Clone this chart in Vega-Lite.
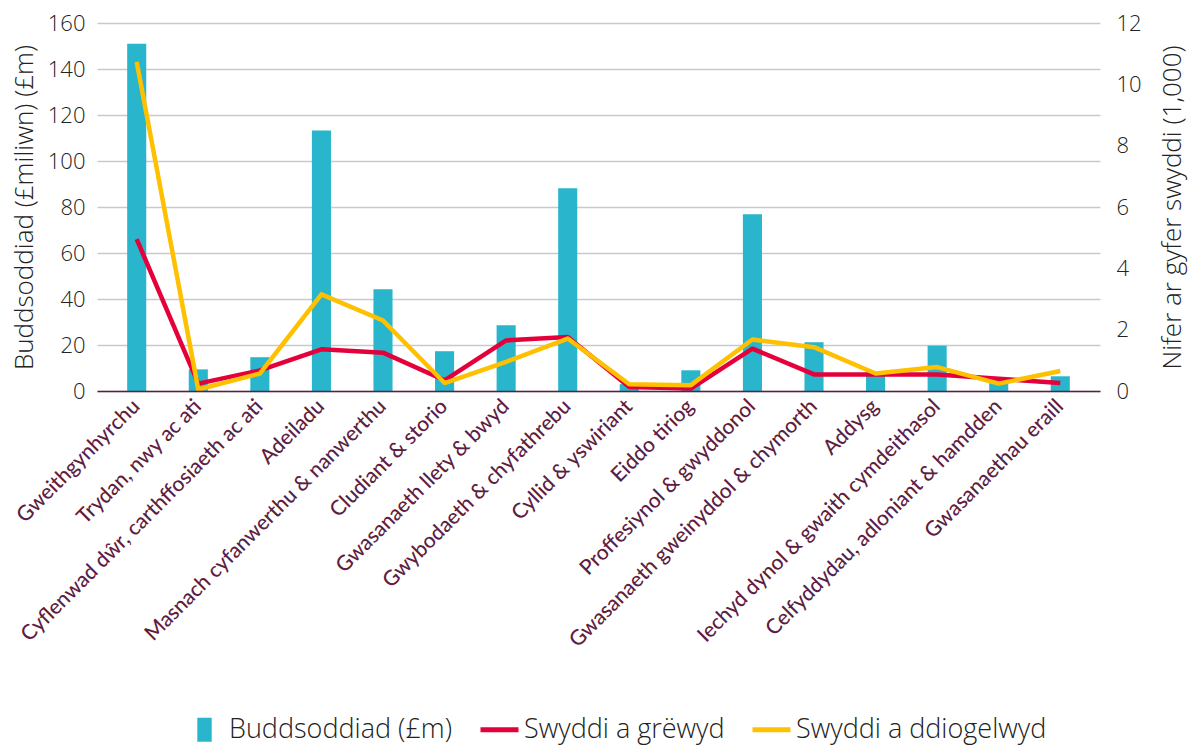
{
  "$schema": "https://vega.github.io/schema/vega-lite/v6.json",
  "autosize": "none",
  "width": 1003,
  "height": 368,
  "padding": {"left": 97, "top": 23, "right": 89, "bottom": 356},
  "background": "white",
  "config": {
    "view": {"stroke": null},
    "font": "Open Sans",
    "axis": {"labelFont": "Open Sans", "titleFont": "Open Sans", "ticks": false},
    "legend": {
      "title": null,
      "orient": "none",
      "direction": "horizontal",
      "legendX": 94,
      "legendY": 693,
      "symbolSize": 1444,
      "labelFontSize": 27,
      "labelFontWeight": 300,
      "labelColor": "#222222",
      "labelFont": "Open Sans",
      "labelLimit": 400,
      "labelOffset": 11,
      "columnPadding": 17
    }
  },
  "data": {
    "values": [
      {"cat": "Gweithgynhyrchu", "invest": 151, "created": 4.95, "safe": 10.73},
      {"cat": "Trydan, nwy ac ati", "invest": 9.4, "created": 0.24, "safe": 0.05},
      {"cat": "Cyflenwad dŵr, carthffosiaeth ac ati", "invest": 14.7, "created": 0.67, "safe": 0.57},
      {"cat": "Adeiladu", "invest": 113.3, "created": 1.36, "safe": 3.15},
      {"cat": "Masnach cyfanwerthu & nanwerthu", "invest": 44.2, "created": 1.25, "safe": 2.3},
      {"cat": "Cludiant & storio", "invest": 17.3, "created": 0.35, "safe": 0.26},
      {"cat": "Gwasanaeth llety & bwyd", "invest": 28.6, "created": 1.65, "safe": 0.95},
      {"cat": "Gwybodaeth & chyfathrebu", "invest": 88.1, "created": 1.76, "safe": 1.71},
      {"cat": "Cyllid & yswiriant", "invest": 3, "created": 0.13, "safe": 0.22},
      {"cat": "Eiddo tiriog", "invest": 9, "created": 0.08, "safe": 0.19},
      {"cat": "Proffesiynol & gwyddonol", "invest": 76.8, "created": 1.38, "safe": 1.68},
      {"cat": "Gwasanaeth gweinyddol & chymorth", "invest": 21.2, "created": 0.54, "safe": 1.43},
      {"cat": "Addysg", "invest": 8, "created": 0.54, "safe": 0.57},
      {"cat": "Iechyd dynol & gwaith cymdeithasol", "invest": 19.7, "created": 0.54, "safe": 0.78},
      {"cat": "Celfyddydau, adloniant & hamdden", "invest": 4.7, "created": 0.4, "safe": 0.24},
      {"cat": "Gwasanaethau eraill", "invest": 6.4, "created": 0.26, "safe": 0.65}
    ]
  },
  "encoding": {
    "x": {
      "field": "cat",
      "type": "nominal",
      "sort": null,
      "scale": {"paddingInner": 0.69, "paddingOuter": 0.49},
      "axis": {
        "title": null,
        "labelFont": "Lato",
        "labelAngle": -45,
        "labelAlign": "right",
        "labelBaseline": "middle",
        "labelFontSize": 21,
        "labelFontWeight": 500,
        "labelColor": "#5e1d41",
        "labelPadding": 12,
        "labelLimit": 500,
        "domainColor": "#5e1d41",
        "domainWidth": 1.5,
        "zindex": 1
      }
    }
  },
  "layer": [
    {
      "mark": {"type": "bar", "color": "#29b6cc"},
      "encoding": {
        "y": {
          "field": "invest",
          "type": "quantitative",
          "scale": {"domain": [0, 160]},
          "axis": {
            "title": "Buddsoddiad (£miliwn) (£m)",
            "titleFontSize": 26,
            "titleFontWeight": 300,
            "titleColor": "#222222",
            "titlePadding": 10,
            "values": [0, 20, 40, 60, 80, 100, 120, 140, 160],
            "labelFontSize": 22,
            "labelFontWeight": 300,
            "labelColor": "#222222",
            "labelPadding": 12,
            "domain": false,
            "gridColor": "#c8c9cd",
            "gridWidth": 1.5
          }
        },
        "color": {
          "datum": "Buddsoddiad (£m)",
          "type": "nominal",
          "scale": {
            "domain": ["Buddsoddiad (£m)", "Swyddi a grëwyd", "Swyddi a ddiogelwyd"],
            "range": ["#29b6cc", "#e4003b", "#ffc000"]
          },
          "legend": {
            "title": null,
            "encode": {
              "symbols": {
                "update": {
                  "shape": {"signal": "datum.value === 'Buddsoddiad (£m)' ? 'M-0.6,-1H0.6V1H-0.6Z' : 'stroke'"},
                  "size": {"signal": "datum.value === 'Buddsoddiad (£m)' ? 576 : 1444"},
                  "fill": {"signal": "scale('color', datum.value)"},
                  "stroke": {"signal": "scale('color', datum.value)"},
                  "strokeWidth": {"signal": "datum.value === 'Buddsoddiad (£m)' ? 0 : 5"},
                  "opacity": {"value": 1},
                  "fillOpacity": {"value": 1}
                }
              }
            }
          }
        }
      }
    },
    {
      "transform": [
        {"fold": ["created", "safe"], "as": ["key", "val"]},
        {"lookup": "key", "from": {"data": {"values": [{"k": "created", "name": "Swyddi a grëwyd"}, {"k": "safe", "name": "Swyddi a ddiogelwyd"}]}, "key": "k", "fields": ["name"]}}
      ],
      "mark": {"type": "line", "strokeWidth": 4.5, "strokeJoin": "round"},
      "encoding": {
        "y": {
          "field": "val",
          "type": "quantitative",
          "scale": {"domain": [0, 12]},
          "axis": {
            "orient": "right",
            "title": "Nifer ar gyfer swyddi (1,000)",
            "titleAngle": -90,
            "titleFontSize": 26,
            "titleFontWeight": 300,
            "titleColor": "#222222",
            "titlePadding": 44,
            "values": [0, 2, 4, 6, 8, 10, 12],
            "labelFontSize": 22,
            "labelFontWeight": 300,
            "labelColor": "#222222",
            "labelPadding": 16,
            "domain": false,
            "grid": false
          }
        },
        "color": {
          "field": "name",
          "type": "nominal",
          "legend": {
            "title": null,
            "encode": {
              "symbols": {
                "update": {
                  "shape": {"signal": "datum.value === 'Buddsoddiad (£m)' ? 'M-0.6,-1H0.6V1H-0.6Z' : 'stroke'"},
                  "size": {"signal": "datum.value === 'Buddsoddiad (£m)' ? 576 : 1444"},
                  "fill": {"signal": "scale('color', datum.value)"},
                  "stroke": {"signal": "scale('color', datum.value)"},
                  "strokeWidth": {"signal": "datum.value === 'Buddsoddiad (£m)' ? 0 : 5"},
                  "opacity": {"value": 1},
                  "fillOpacity": {"value": 1}
                }
              }
            }
          }
        },
        "order": {"field": "key", "sort": "ascending"}
      }
    }
  ],
  "resolve": {"scale": {"y": "independent"}}
}
